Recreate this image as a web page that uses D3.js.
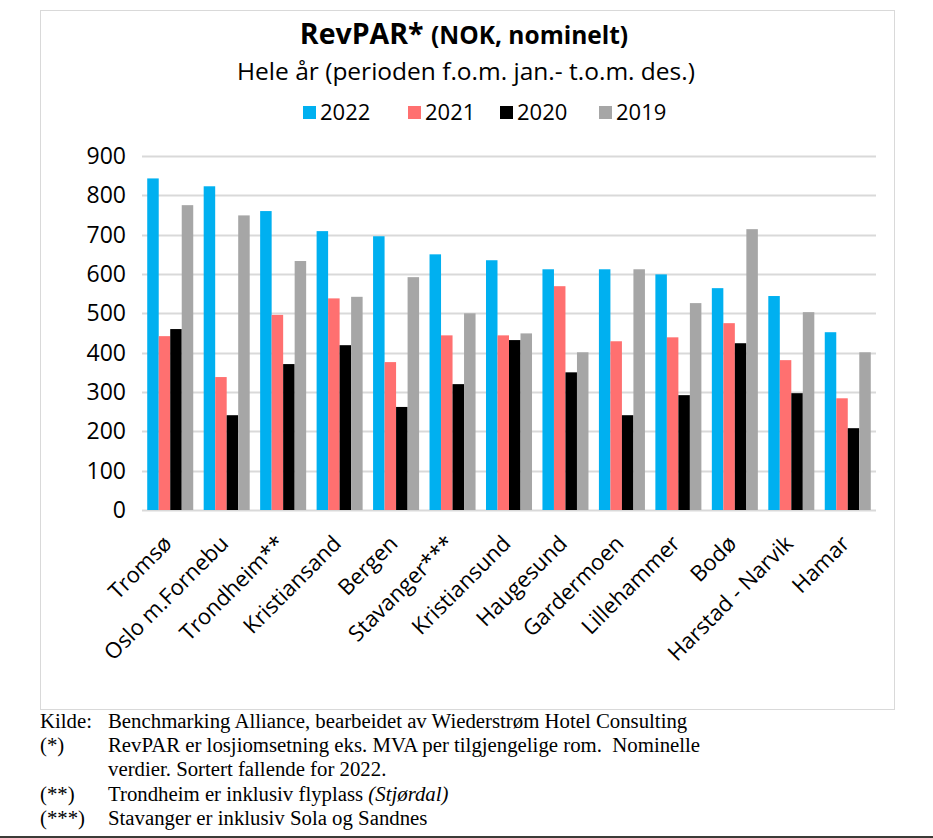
<!DOCTYPE html>
<html>
<head>
<meta charset="utf-8">
<script src="https://cdn.jsdelivr.net/npm/d3@7"></script>
<style>
  body { margin: 0; background: #fff; }
  svg { display: block; }
</style>
</head>
<body>
<script>
// data
const cities = ["Tromsø", "Oslo m.Fornebu", "Trondheim**", "Kristiansand", "Bergen", "Stavanger***",
  "Kristiansund", "Haugesund", "Gardermoen", "Lillehammer", "Bodø", "Harstad - Narvik", "Hamar"];
const years = ["2022", "2021", "2020", "2019"];
const v2022 = [843, 823, 760, 709, 696, 650, 635, 612, 612, 599, 564, 544, 452];
const v2021 = [442, 338, 496, 538, 376, 444, 444, 569, 429, 439, 475, 381, 284];
const v2020 = [460, 241, 371, 419, 262, 320, 432, 350, 241, 292, 424, 297, 208];
const v2019 = [775, 749, 633, 542, 592, 500, 449, 401, 612, 526, 714, 503, 401];
const yTicks = [0, 100, 200, 300, 400, 500, 600, 700, 800, 900];
const colors = ["#00B0F0", "#FF7070", "#000000", "#A6A6A6"];
const notes = [
  ["Kilde:", "Benchmarking Alliance, bearbeidet av Wiederstrøm Hotel Consulting"],
  ["(*)", "RevPAR er losjiomsetning eks. MVA per tilgjengelige rom.\u00a0 Nominelle"],
  ["", "verdier. Sortert fallende for 2022."],
  ["(**)", "Trondheim er inklusiv flyplass |(Stjørdal)"],
  ["(***)", "Stavanger er inklusiv Sola og Sandnes"]
];

const series = [v2022, v2021, v2020, v2019];
const width = 933, height = 838;
const font = "'Open Sans', sans-serif";

const svg = d3.select("body").append("svg")
  .attr("width", width)
  .attr("height", height);

// chart frame
svg.append("rect")
  .attr("x", 40.5).attr("y", 10.5)
  .attr("width", 854).attr("height", 699)
  .attr("fill", "none")
  .attr("stroke", "#d9d9d9");

const x = d3.scaleBand()
  .domain(cities)
  .range([142, 876])
  .paddingInner(0.185)
  .paddingOuter(0.0925);

const xSub = d3.scaleBand()
  .domain(years)
  .range([0, x.bandwidth()]);

const y = d3.scaleLinear()
  .domain([0, 900])
  .range([510, 156]);

// gridlines
svg.append("g")
  .selectAll("line")
  .data(yTicks)
  .enter().append("line")
  .attr("x1", 142).attr("x2", 876)
  .attr("y1", d => Math.round(y(d)) + 0.5)
  .attr("y2", d => Math.round(y(d)) + 0.5)
  .attr("stroke", "#d9d9d9")
  .attr("stroke-width", 2);

// y labels
svg.append("g")
  .selectAll("text")
  .data(yTicks)
  .enter().append("text")
  .attr("x", 126)
  .attr("y", d => y(d) + 8)
  .attr("text-anchor", "end")
  .style("font-family", font)
  .style("font-size", "23px")
  .attr("fill", "#000")
  .text(d => d);

// bars
const groups = svg.append("g")
  .selectAll("g")
  .data(cities)
  .enter().append("g")
  .attr("transform", d => `translate(${x(d)},0)`);

groups.selectAll("rect")
  .data((d, i) => years.map((yr, k) => ({ yr, value: series[k][i], k })))
  .enter().append("rect")
  .attr("x", d => xSub(d.yr))
  .attr("width", xSub.bandwidth())
  .attr("y", d => y(d.value))
  .attr("height", d => y(0) - y(d.value))
  .attr("fill", d => colors[d.k]);

// x labels
svg.append("g")
  .selectAll("text")
  .data(cities)
  .enter().append("text")
  .attr("transform", d => `translate(${x(d) + x.bandwidth() / 2 + 3},545) rotate(-45)`)
  .attr("text-anchor", "end")
  .style("font-family", font)
  .style("font-size", "22px")
  .attr("fill", "#000")
  .text(d => d);

// title
const title = svg.append("text")
  .attr("x", 464).attr("y", 44)
  .attr("text-anchor", "middle")
  .style("font-family", font)
  .style("font-weight", "bold")
  .attr("fill", "#000");
title.append("tspan").style("font-size", "28.5px").text("RevPAR* ");
title.append("tspan").style("font-size", "24.5px").text("(NOK, nominelt)");

svg.append("text")
  .attr("x", 466).attr("y", 80)
  .attr("text-anchor", "middle")
  .style("font-family", font)
  .style("font-size", "24.5px")
  .attr("fill", "#000")
  .text("Hele år (perioden f.o.m. jan.- t.o.m. des.)");

// legend
const legendX = [303, 408, 500, 599];
const legend = svg.append("g")
  .selectAll("g")
  .data(years)
  .enter().append("g")
  .attr("transform", (d, i) => `translate(${legendX[i]},106)`);
legend.append("rect")
  .attr("width", 13).attr("height", 13)
  .attr("fill", (d, i) => colors[i]);
legend.append("text")
  .attr("x", 17).attr("y", 14)
  .style("font-family", font)
  .style("font-size", "22px")
  .attr("fill", "#000")
  .text(d => d);

// footnotes
const noteG = svg.append("g")
  .style("font-family", "'Liberation Serif', 'Times New Roman', serif")
  .style("font-size", "20.8px")
  .attr("fill", "#000");
notes.forEach((n, i) => {
  const yy = 728 + i * 24.2;
  noteG.append("text").attr("x", 40).attr("y", yy).text(n[0]);
  const parts = n[1].split("|");
  const t = noteG.append("text").attr("x", 108).attr("y", yy);
  t.append("tspan").text(parts[0]);
  if (parts[1]) t.append("tspan").style("font-style", "italic").text(parts[1]);
});

// dark page edge at the bottom
svg.append("rect")
  .attr("x", 0).attr("y", 836)
  .attr("width", width).attr("height", 2)
  .attr("fill", "#3c3c38");
</script>
</body>
</html>
